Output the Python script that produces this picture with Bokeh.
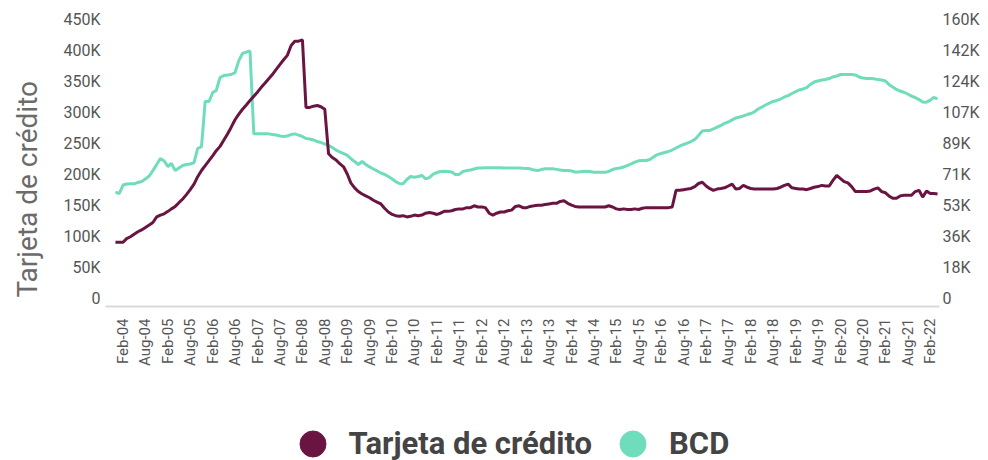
import math
import pandas as pd
from bokeh.plotting import figure
from bokeh.layouts import column
from bokeh.models import (Range1d, LinearAxis, FixedTicker, DatetimeTickFormatter,
                          Legend, LegendItem)
from bokeh.embed import file_html
from bokeh.resources import INLINE

# ---------------- data ----------------
months = pd.date_range("2003-12-01", "2022-04-01", freq="MS")

tarjeta_k = [
    90, 90, 90, 96, 99, 103, 107, 110, 114, 118, 122,
    131, 134, 136, 140, 144, 148, 154, 160, 167, 175, 184,
    196, 206, 214, 222, 230, 238, 245, 255, 265, 276, 288,
    297, 305, 312, 319, 326, 333, 340, 347, 354, 361, 369,
    377, 385, 392, 408, 415, 415, 417,
    308, 308, 310, 311, 309, 305,
    233, 227, 223, 217, 212, 200, 186, 178, 172, 168, 165,
    162, 158, 155, 152, 145, 139, 135, 133, 132, 133, 131,
    132, 134, 133, 134, 137, 138, 137, 135, 137, 140, 140,
    141, 143, 144, 144, 146, 146, 149, 147, 147, 146,
    137, 134, 137, 139, 139, 141, 142, 148, 149, 146,
    146, 148, 149, 150, 150, 151, 152, 153, 153, 156,
    157, 153, 150, 148, 147, 147, 147, 147, 147, 147,
    147, 147, 149, 147, 144, 143, 144, 143, 143, 144,
    143, 145, 146, 146, 146, 146, 146, 146, 146, 147,
    174, 174, 175, 176, 177, 180, 185, 187, 181, 177,
    174, 176, 177, 178, 181, 184, 176, 177, 182, 179,
    177, 176, 176, 176, 176, 176, 176, 177, 179, 182,
    184, 178, 177, 176, 176, 175, 177, 179, 180, 182,
    181, 181, 190, 198, 193, 188, 186, 180, 172, 172,
    172, 172, 173, 176, 178, 172, 170, 165, 161, 161,
    165, 166, 166, 166, 172, 174, 163, 173, 169, 169, 168,
]

bcd_k = [
    60.8, 60.0, 64.9, 65.5, 65.6, 65.6, 66.4, 66.9, 68.4, 70.1, 73.2,
    76.7, 80.1, 78.7, 75.5, 77.3, 73.2, 74.7, 76.1, 76.7, 77.0, 77.8,
    85.9, 87.0, 112.9, 112.9, 118.1, 119.2, 126.7, 127.8, 128.1, 128.4, 129.5,
    136.4, 140.5, 141.3, 141.9, 94.3, 94.3, 94.3, 94.3, 94.3, 93.9, 93.6,
    93.1, 92.8, 93.1, 93.9, 94.3, 93.6, 92.8, 91.6, 91.3, 90.8, 89.9,
    89.3, 88.5, 87.6, 86.5, 85.0, 83.9, 83.0, 81.9, 80.1, 78.4, 76.7,
    78.4, 76.7, 75.3, 74.1, 73.0, 71.8, 71.0, 69.8, 68.4, 66.9, 65.8,
    65.6, 68.1, 69.8, 69.4, 69.8, 70.4, 68.4, 69.2, 71.2, 72.1, 72.7,
    72.8, 72.7, 72.4, 71.0, 71.0, 72.7, 73.2, 73.5, 74.1, 74.7, 74.7,
    74.8, 74.8, 74.8, 74.8, 74.8, 74.7, 74.7, 74.7, 74.7, 74.7, 74.5,
    74.4, 74.2, 73.5, 73.2, 73.8, 74.2, 74.2, 74.2, 73.9, 73.5, 73.2,
    73.2, 73.0, 72.4, 72.4, 72.7, 72.8, 72.7, 72.3, 72.3, 72.3, 72.3,
    72.7, 73.8, 74.4, 74.7, 75.3, 76.1, 77.0, 78.1, 78.8, 79.0, 79.0,
    79.6, 81.0, 82.4, 83.0, 83.6, 84.2, 85.0, 86.2, 87.3, 88.2, 89.0,
    89.9, 91.1, 93.4, 95.9, 96.2, 96.2, 97.1, 98.2, 99.1, 100.3, 101.1,
    102.3, 103.4, 104.0, 104.6, 105.4, 106.0, 106.9, 108.6, 109.7, 110.9, 112.0,
    112.9, 113.5, 114.3, 115.5, 116.3, 117.5, 118.6, 119.5, 120.1, 120.9, 122.7,
    124.1, 124.7, 125.2, 125.5, 126.1, 127.0, 127.5, 128.4, 128.4, 128.4, 128.4,
    128.1, 127.0, 126.4, 126.1, 126.1, 125.9, 125.5, 125.2, 124.7, 122.7, 121.2,
    119.8, 118.9, 118.2, 117.2, 116.0, 115.2, 114.0, 112.6, 112.5, 113.7, 115.2, 114.4,
]

tarjeta = [v * 1000 for v in tarjeta_k]
bcd = [v * 1000 for v in bcd_k]

left_ticks = [0, 50000, 100000, 150000, 200000, 250000, 300000, 350000, 400000, 450000]
left_labels = ["0", "50K", "100K", "150K", "200K", "250K", "300K", "350K", "400K", "450K"]
right_ticks = [i * 160000 / 9 for i in range(10)]
right_labels = ["0", "18K", "36K", "53K", "71K", "89K", "107K", "124K", "142K", "160K"]
x_tick_dates = [pd.Timestamp(f"{y}-{m:02d}-01") for y in range(2004, 2023) for m in (2, 8)][:-1]
series_names = ["Tarjeta de crédito", "BCD"]

# ---------------- styling ----------------
MAROON = "#6a1541"
MINT = "#6fdcbc"
FONT = "Roboto"

ratio = 450000 / 160000
y_start, y_end = -13730, 454850

x_start = months[0] - pd.Timedelta(days=81)
x_end = months[-1] + pd.Timedelta(days=16)

p = figure(width=988, height=400, output_backend="svg", toolbar_location=None,
           x_axis_type="datetime",
           x_range=Range1d(x_start, x_end), y_range=Range1d(y_start, y_end),
           min_border_left=105, min_border_right=49, min_border_top=16, min_border_bottom=94)
p.extra_y_ranges = {"bcd": Range1d(y_start / ratio, y_end / ratio)}
p.outline_line_color = None
p.xgrid.visible = False
p.ygrid.visible = False
p.background_fill_color = "white"
p.border_fill_color = "white"

# lines
p.line(months, bcd, color=MINT, line_width=3, y_range_name="bcd")
p.line(months, tarjeta, color=MAROON, line_width=3)

# x axis
xa = p.xaxis[0]
xa.ticker = FixedTicker(ticks=[int(t.value // 10**6) for t in x_tick_dates])
fmt = "%b-%y"
xa.formatter = DatetimeTickFormatter(milliseconds=fmt, seconds=fmt, minsec=fmt, minutes=fmt,
                                     hourmin=fmt, hours=fmt, days=fmt, months=fmt, years=fmt)
xa.major_label_orientation = math.pi / 2
xa.major_label_text_font = FONT
xa.major_label_text_font_size = "15px"
xa.major_label_text_color = "#555555"
xa.major_tick_line_color = None
xa.minor_tick_line_color = None
xa.major_tick_out = 0
xa.major_tick_in = 0
xa.major_label_standoff = 12
xa.axis_line_color = "#dadada"
xa.axis_line_width = 2

# left axis
ya = p.yaxis[0]
ya.ticker = FixedTicker(ticks=left_ticks)
ya.major_label_overrides = dict(zip(left_ticks, left_labels))
ya.axis_label = series_names[0] + "\u00a0" * 8
ya.axis_label_text_font = FONT
ya.axis_label_text_font_size = "28px"
ya.axis_label_text_font_style = "normal"
ya.axis_label_text_color = "#6b6b6b"
ya.axis_label_standoff = 16
ya.major_label_text_font = FONT
ya.major_label_text_font_size = "16px"
ya.major_label_text_color = "#555555"
ya.axis_line_color = None
ya.major_tick_line_color = None
ya.minor_tick_line_color = None
ya.major_tick_out = 0
ya.major_tick_in = 0
ya.major_label_standoff = 5

# right axis
ra = LinearAxis(y_range_name="bcd", ticker=FixedTicker(ticks=right_ticks))
ra.major_label_overrides = dict(zip(right_ticks, right_labels))
ra.major_label_text_font = FONT
ra.major_label_text_font_size = "16px"
ra.major_label_text_color = "#555555"
ra.axis_line_color = None
ra.major_tick_line_color = None
ra.minor_tick_line_color = None
ra.major_tick_out = 0
ra.major_tick_in = 0
ra.major_label_standoff = 3
p.add_layout(ra, "right")

# ---------------- legend strip ----------------
lg = figure(width=988, height=60, output_backend="svg", toolbar_location=None,
            x_range=Range1d(0, 1), y_range=Range1d(0, 1),
            x_axis_location=None, y_axis_location=None,
            min_border_left=0, min_border_right=0, min_border_top=0, min_border_bottom=0)
lg.outline_line_color = None
lg.xgrid.visible = False
lg.ygrid.visible = False
# legend-only markers (their single point lies outside the visible range)
dt = lg.scatter(x=[5], y=[5], size=26, color=MAROON)
db = lg.scatter(x=[5], y=[5], size=26, color=MINT)
legend = Legend(items=[LegendItem(label=series_names[0], renderers=[dt]),
                       LegendItem(label=series_names[1], renderers=[db])],
                location=(174.5, -15.5), orientation="horizontal",
                glyph_width=65, glyph_height=65, label_height=65,
                padding=0, margin=0, spacing=8, label_standoff=4,
                border_line_color=None, background_fill_alpha=0,
                label_text_font=FONT, label_text_font_style="bold",
                label_text_font_size="31px", label_text_color="#444444")
lg.add_layout(legend, "center")

layout = column(p, lg, spacing=0)
open("out.html", "w").write(file_html(layout, INLINE))
